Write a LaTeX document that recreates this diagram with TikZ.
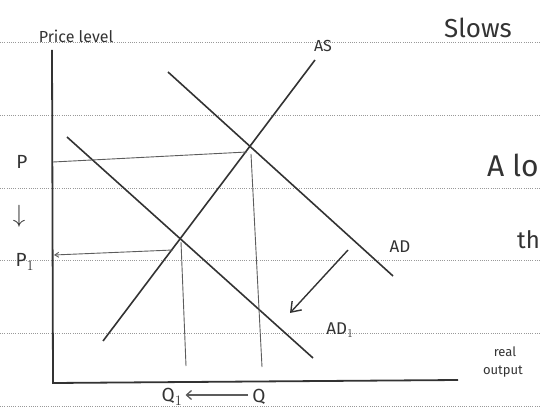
\documentclass[tikz,border=0pt]{standalone}
\usepackage{fontspec}
\setmainfont{Fira Sans}
\usetikzlibrary{arrows.meta,calc}
\definecolor{ink}{HTML}{333333}
\tikzset{
  ruled/.style={draw=gray!80, line width=0.9pt, dash pattern=on 1pt off 1.2pt},
  curve/.style={draw=ink, line width=1.6pt},
  guide/.style={draw=ink!80, line width=0.9pt},
  axisline/.style={draw=ink, line width=1.8pt},
  lbl/.style={text=ink, inner sep=0pt},
}
\begin{document}
\begin{tikzpicture}[x=1pt,y=-1pt]
\useasboundingbox (0,0) rectangle (541,414);
\clip (0,0) rectangle (541,414);
% ruled paper lines
\foreach \yy in {42,115,188,260,333,406}
  \draw[ruled] (0,\yy) -- (541,\yy);
% axes
\coordinate (ytop) at (52,50);
\coordinate (orig) at (53,383);
\coordinate (xend) at (458,380);
\draw[axisline] (ytop) -- (orig) -- (xend);
% curves
\coordinate (as0) at (103,341);
\coordinate (as1) at (315,60);
\coordinate (ad0) at (168,72);
\coordinate (ad1) at (393,276);
\coordinate (adb0) at (67,137);
\coordinate (adb1) at (313,358);
\draw[curve] (as0) -- (as1);
\draw[curve] (ad0) -- (ad1);
\draw[curve] (adb0) -- (adb1);
% equilibrium guides
\coordinate (e0) at (247,152);
\coordinate (pax) at (53,162);
\coordinate (e1) at (173,250);
\coordinate (p1ax) at (54,255);
\coordinate (e0b) at (251,154);
\coordinate (qax) at (262,367);
\coordinate (e1b) at (181,242);
\coordinate (q1ax) at (186,366);
\draw[guide] (e0) -- (pax);
\draw[guide, -{Straight Barb[length=4pt,width=5pt]}] (e1) -- (p1ax);
\draw[guide] (e0b) -- (qax);
\draw[guide] (e1b) -- (q1ax);
% shift arrow
\coordinate (sh0) at (348,250);
\coordinate (sh1) at (290,313);
\draw[curve, line width=1.4pt, -{Straight Barb[length=9pt,width=13pt]}] (sh0) -- (sh1);
% labels
\node[lbl, font=\fontsize{16}{16}\selectfont] (plabel) at (76,36) {Price level};
\node[lbl, font=\fontsize{16}{16}\selectfont] (aslabel) at (323,46) {AS};
\node[lbl, font=\fontsize{26}{26}\selectfont] (slows) at (478,28) {Slows};
\node[lbl, font=\fontsize{30}{30}\selectfont, anchor=west] (alo) at (487,165) {A lo};
\node[lbl, font=\fontsize{24}{24}\selectfont, anchor=west] (th) at (517,240) {th};
\node[lbl, font=\fontsize{17}{17}\selectfont] (adlabel) at (400,247) {AD};
\node[lbl, font=\fontsize{17}{17}\selectfont] (ad1label) at (340,330) {AD$_1$};
\node[lbl, font=\fontsize{13}{13}\selectfont] (rlabel) at (505,352) {real};
\node[lbl, font=\fontsize{13}{13}\selectfont] (olabel) at (503,372) {output};
\node[lbl, font=\fontsize{19}{19}\selectfont] (p) at (22,162) {P};
\node[lbl, font=\fontsize{30}{30}\selectfont] (darr) at (19,216) {$\downarrow$};
\node[lbl, font=\fontsize{19}{19}\selectfont] (p1) at (25,262) {P$_1$};
\node[lbl, font=\fontsize{19}{19}\selectfont] (q1) at (172,397) {Q$_1$};
\node[lbl, font=\fontsize{19}{19}\selectfont] (q) at (259,397) {Q};
\draw[guide, line width=1.3pt, -{Straight Barb[length=5pt,width=9pt]}] ($(q.west)+(-4,-2)$) -- ($(q1.east)+(3,-2)$);
\end{tikzpicture}
\end{document}
